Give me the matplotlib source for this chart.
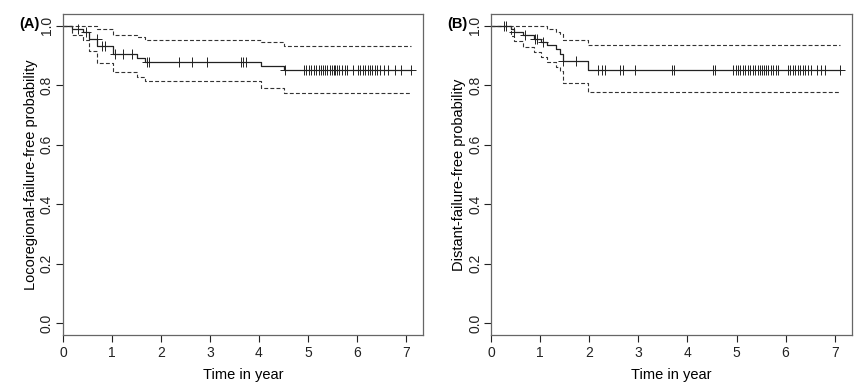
import numpy as np
import matplotlib.pyplot as plt

plt.rcParams['font.family'] = ['Liberation Sans', 'DejaVu Sans']

# Panel A: locoregional-failure-free probability
a_times = [0, 0.18, 0.40, 0.53, 0.70, 1.02, 1.51, 1.67, 4.05, 4.51, 7.10]
a_surv = [1.0, 0.989, 0.977, 0.955, 0.930, 0.905, 0.892, 0.878, 0.863, 0.849, 0.849]
a_upper = [1.0, 1.0, 1.0, 1.0, 0.990, 0.968, 0.960, 0.953, 0.945, 0.930, 0.930]
a_lower = [1.0, 0.968, 0.950, 0.914, 0.875, 0.844, 0.828, 0.813, 0.790, 0.774, 0.774]
a_censor = [0.31, 0.47, 0.69, 0.80, 0.86, 1.06, 1.23, 1.40, 1.71, 1.76, 2.37, 2.63,
            2.94, 3.63, 3.68, 3.73, 4.53, 4.92, 4.97, 5.02, 5.07, 5.12, 5.17, 5.22,
            5.27, 5.31, 5.36, 5.40, 5.45, 5.50, 5.53, 5.56, 5.60, 5.64, 5.69, 5.75,
            5.80, 5.92, 6.02, 6.07, 6.12, 6.17, 6.22, 6.27, 6.32, 6.37, 6.42, 6.47,
            6.55, 6.63, 6.78, 6.90, 7.10]

# Panel B: distant-failure-free probability
b_times = [0, 0.41, 0.47, 0.65, 0.88, 1.02, 1.13, 1.33, 1.40, 1.47, 1.98, 7.10]
b_surv = [1.0, 0.989, 0.978, 0.967, 0.956, 0.945, 0.934, 0.920, 0.905, 0.880, 0.850, 0.850]
b_upper = [1.0, 1.0, 1.0, 1.0, 1.0, 1.0, 0.989, 0.980, 0.970, 0.953, 0.933, 0.933]
b_lower = [1.0, 0.966, 0.947, 0.927, 0.910, 0.893, 0.877, 0.862, 0.846, 0.807, 0.777, 0.777]
b_censor = [0.26, 0.31, 0.47, 0.69, 0.89, 0.94, 1.06, 1.47, 1.74, 2.18, 2.25, 2.32,
            2.62, 2.69, 2.94, 3.69, 3.73, 4.52, 4.56, 4.93, 4.98, 5.03, 5.08, 5.13,
            5.18, 5.23, 5.28, 5.33, 5.38, 5.43, 5.48, 5.52, 5.56, 5.60, 5.65, 5.70,
            5.75, 5.81, 5.85, 6.05, 6.10, 6.15, 6.20, 6.25, 6.30, 6.35, 6.40, 6.45,
            6.52, 6.63, 6.73, 6.81, 7.10]

x_ticks = [0, 1, 2, 3, 4, 5, 6, 7]
y_ticks = [0.0, 0.2, 0.4, 0.6, 0.8, 1.0]


def surv_at(times, surv, t):
    idx = np.searchsorted(times, t, side='right') - 1
    return np.array(surv)[idx]


def km_panel(ax, times, surv, upper, lower, censor, ylabel, tag):
    ax.step(times, surv, where='post', color='#222222', lw=0.9)
    ax.step(times, upper, where='post', color='#333333', lw=0.8, ls=(0, (3.5, 2)))
    ax.step(times, lower, where='post', color='#333333', lw=0.8, ls=(0, (3.5, 2)))
    ax.plot(censor, surv_at(times, surv, censor), ls='none', marker='+',
            ms=7, mew=0.7, color='#222222')
    ax.set_xlim(0, 7.35)
    ax.set_ylim(-0.04, 1.04)
    ax.set_xticks(x_ticks)
    ax.set_xticklabels([str(v) for v in x_ticks])
    ax.set_yticks(y_ticks)
    ax.set_yticklabels(['%.1f' % v for v in y_ticks], rotation=90, va='center')
    ax.tick_params(direction='out', length=5, width=0.8, labelsize=10,
                   colors='#222222', pad=3)
    ax.tick_params(axis='y', pad=1.5)
    for s in ax.spines.values():
        s.set_color('#666666')
        s.set_linewidth(0.9)
    ax.set_xlabel('Time in year', fontsize=10.5, labelpad=6)
    ax.set_ylabel(ylabel, fontsize=10.5, labelpad=1.5)
    ax.text(-0.093, 0.967, tag, transform=ax.transAxes, fontsize=10.5,
            fontweight='bold', ha='center', va='center')


fig = plt.figure(figsize=(8.57, 3.9), dpi=100)
ax1 = fig.add_axes([0.0735, 0.141, 0.42, 0.824])
ax2 = fig.add_axes([0.573, 0.141, 0.421, 0.824])

km_panel(ax1, a_times, a_surv, a_upper, a_lower, a_censor,
         'Locoregional-failure-free probability', '(A)')
km_panel(ax2, b_times, b_surv, b_upper, b_lower, b_censor,
         'Distant-failure-free probability', '(B)')

fig.savefig('out.png', dpi=100)
